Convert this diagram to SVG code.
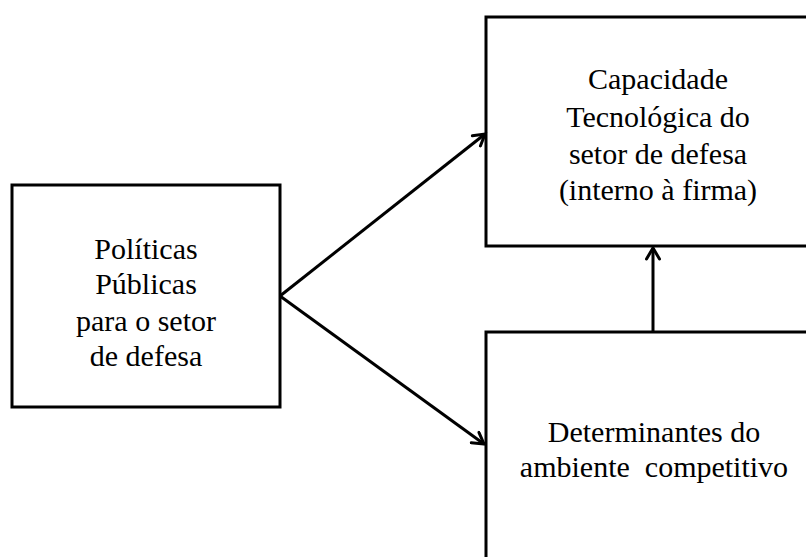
<svg xmlns="http://www.w3.org/2000/svg" width="806" height="557" viewBox="0 0 806 557">
  <style>
    .box { fill: #ffffff; stroke: #000000; stroke-width: 3; }
    .label { font-family: "Liberation Serif", "Times New Roman", serif; font-size: 30px; fill: #000000; text-anchor: middle; }
    .link { fill: none; stroke: #000000; stroke-width: 3; marker-end: url(#chevron); }
  </style>
  <defs>
    <marker id="chevron" markerUnits="userSpaceOnUse" markerWidth="16" markerHeight="16" viewBox="0 0 16 16" refX="13" refY="8" orient="auto">
      <path d="M2,1.5 L13,8 L2,14.5" fill="none" stroke="#000000" stroke-width="3" stroke-linejoin="miter" stroke-linecap="round"/>
    </marker>
  </defs>
  <rect width="806" height="557" fill="#ffffff"/>

  <g id="politicas">
    <rect class="box" x="12" y="185" width="268" height="222"/>
    <text class="label" x="146" y="259">Políticas</text>
    <text class="label" x="146" y="294">Públicas</text>
    <text class="label" x="146" y="331">para o setor</text>
    <text class="label" x="146" y="366">de defesa</text>
  </g>

  <g id="capacidade">
    <rect class="box" x="486" y="17" width="340" height="229"/>
    <text class="label" x="658" y="89">Capacidade</text>
    <text class="label" x="658" y="127">Tecnológica do</text>
    <text class="label" x="658" y="164">setor de defesa</text>
    <text class="label" x="658" y="200">(interno à firma)</text>
  </g>

  <g id="determinantes">
    <rect class="box" x="486" y="332" width="340" height="240"/>
    <text class="label" x="654" y="442">Determinantes do</text>
    <text class="label" x="654" y="477" xml:space="preserve">ambiente  competitivo</text>
  </g>

  <g id="connectors">
    <line class="link" x1="280" y1="296" x2="485" y2="134"/>
    <line class="link" x1="280" y1="296" x2="484" y2="444"/>
    <line class="link" x1="653" y1="332" x2="653" y2="248"/>
  </g>
</svg>
